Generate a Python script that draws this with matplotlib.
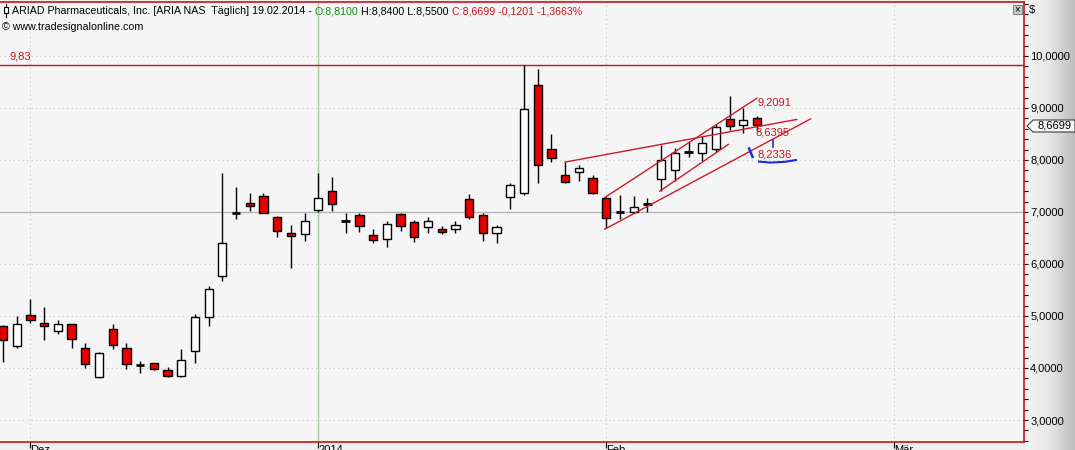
import matplotlib
matplotlib.use('Agg')
import matplotlib.pyplot as plt
import numpy as np
from matplotlib.ticker import MultipleLocator
from matplotlib.patches import Rectangle, Polygon

plt.rcParams['font.family'] = ['Liberation Sans', 'DejaVu Sans']

# Tageskerzen ARIA, Dez 2013 - 19.02.2014
opens = [4.80, 4.43, 5.02, 4.87, 4.72, 4.85, 4.38, 3.83, 4.75, 4.38,
         4.06, 4.09, 3.96, 3.85, 4.33, 4.98, 5.76, 6.99, 7.17, 7.31,
         6.90, 6.60, 6.57, 7.03, 7.40, 6.82, 6.94, 6.55, 6.48, 6.96,
         6.81, 6.72, 6.67, 6.67, 7.245, 6.94, 6.59, 7.28, 7.36, 9.44,
         8.21, 7.71, 7.77, 7.65, 7.26, 7.00, 7.005, 7.15, 7.64, 7.80,
         8.15, 8.13, 8.21, 8.79, 8.67, 8.81]
highs = [4.82, 5.00, 5.33, 5.18, 4.92, 4.85, 4.48, 4.31, 4.85, 4.49,
         4.13, 4.09, 4.01, 4.37, 5.045, 5.58, 7.75, 7.49, 7.36, 7.36,
         6.92, 6.745, 6.975, 7.745, 7.67, 6.99, 6.99, 6.67, 6.82, 6.99,
         6.85, 6.90, 6.73, 6.82, 7.34, 6.975, 6.745, 7.55, 9.83, 9.75,
         8.50, 7.96, 7.90, 7.71, 7.295, 7.33, 7.31, 7.26, 8.29, 8.24,
         8.35, 8.46, 8.69, 9.23, 9.00, 8.84]
lows = [4.12, 4.39, 4.86, 4.54, 4.65, 4.39, 4.00, 3.80, 4.37, 3.98,
        3.90, 3.955, 3.83, 3.83, 4.10, 4.80, 5.67, 6.86, 7.01, 6.99,
        6.51, 5.92, 6.45, 7.005, 7.02, 6.59, 6.62, 6.40, 6.32, 6.64,
        6.43, 6.59, 6.57, 6.59, 6.87, 6.45, 6.40, 7.05, 7.33, 7.56,
        7.96, 7.55, 7.60, 7.35, 6.70, 6.86, 7.00, 7.00, 7.40, 7.60,
        8.05, 7.99, 8.16, 8.58, 8.525, 8.55]
closes = [4.53, 4.85, 4.92, 4.81, 4.85, 4.56, 4.07, 4.28, 4.44, 4.07,
          4.06, 3.98, 3.85, 4.15, 4.975, 5.52, 6.40, 6.99, 7.11, 6.99,
          6.63, 6.545, 6.82, 7.26, 7.15, 6.82, 6.725, 6.455, 6.77, 6.73,
          6.51, 6.82, 6.61, 6.745, 6.90, 6.59, 6.705, 7.51, 8.99, 7.90,
          8.03, 7.585, 7.85, 7.37, 6.88, 7.00, 7.09, 7.15, 8.00, 8.13,
          8.15, 8.32, 8.64, 8.655, 8.775, 8.6699]

# Trendlinien (Bar-Index, Kurs)
line_a = ([41, 57.9], [7.96, 8.78])
line_b = ([43.9, 55.0], [7.28, 9.19])
line_c = ([43.9, 58.9], [6.67, 8.79])
line_d = ([47.9, 52.9], [7.40, 8.30])
level_high = 9.83
month_pos = [2, 23, 44, 65]
month_labels = ['Dez', '2014', 'Feb', 'Mär']
y_ticks = [3, 4, 5, 6, 7, 8, 9, 10]

W, H = 1075, 450
fig = plt.figure(figsize=(W / 100, H / 100), dpi=100, facecolor='#efefef')

def fx(x):
    return x / W

def fy(y):
    return 1 - y / H

# rechte Preisskala mit Verlauf
axr = fig.add_axes([fx(1025), 0, fx(50), 1], zorder=0)
grad = np.linspace(0, 1, 100).reshape(1, -1)
axr.imshow(grad, aspect='auto', cmap=matplotlib.colors.LinearSegmentedColormap.from_list(
    'g', ['#f4f4f4', '#e6e6e6', '#bcbcbc']), extent=[0, 1, 0, 1])
axr.set_axis_off()

ax = fig.add_axes([0, fy(442), fx(1024), 440 / H], zorder=2)
ax.set_facecolor('#f5f5f5')
ax.set_xlim(-0.219, 74.47)
ax.set_ylim(2.577, 11.038)
for s in ax.spines.values():
    s.set_color('#c8141e')
    s.set_linewidth(1.2)
ax.spines['left'].set_visible(False)

# Gitter
for v in y_ticks:
    if v == 7:
        ax.axhline(v, color='#b4b4b4', lw=1, zorder=1)
    else:
        ax.axhline(v, color='#c4c4c4', lw=0.8, ls=(0, (1, 3)), zorder=1)
for i, p in enumerate(month_pos):
    if i == 1:
        ax.axvline(p, color='#a9c4a9', lw=1, zorder=1)
    else:
        ax.axvline(p, color='#c4c4c4', lw=0.8, ls=(0, (1, 3)), zorder=1)

ax.axhline(level_high, color='#d0101a', lw=1, zorder=1)
ax.text(0.5, level_high + 0.06, '9,83', color='#d0101a', fontsize=8, va='bottom')

# Kerzen
idx = np.arange(len(opens))
o = np.array(opens); c = np.array(closes)
ax.vlines(idx, lows, highs, color='black', lw=1, zorder=3)
doji = np.abs(c - o) < 0.005
cols = np.where(c < o, '#e80000', 'white')
ax.bar(idx[~doji], np.abs(c - o)[~doji], bottom=np.minimum(o, c)[~doji], width=0.6,
       color=cols[~doji], edgecolor='black', lw=1, zorder=4)
ax.hlines(c[doji], idx[doji] - 0.32, idx[doji] + 0.32, color='black', lw=2, zorder=4)

for ln in (line_a, line_b, line_c, line_d):
    ax.plot(ln[0], ln[1], color='#cc1a2a', lw=1, zorder=5)
ax.text(55.0, 9.10, '9,2091', color='#d0101a', fontsize=8, va='center', zorder=6)
ax.text(54.85, 8.52, '8,6395', color='#d0101a', fontsize=8, va='center', zorder=6)
ax.text(55.0, 8.10, '8,2336', color='#d0101a', fontsize=8, va='center', zorder=6)

# blaue Handmarkierungen
ax.plot([55.14, 55.94, 57.04, 57.84], [7.97, 7.95, 7.965, 8.00], color='#1530d8', lw=1.5, zorder=6)
ax.plot([54.42, 54.67], [8.22, 8.06], color='#1530d8', lw=1.8, zorder=6)
ax.plot([56.16, 56.16], [8.38, 8.25], color='#1530d8', lw=1.2, zorder=6)

# Achsen
ax.yaxis.tick_right()
ax.set_yticks(y_ticks)
ax.set_yticklabels([f'{v:.4f}'.replace('.', ',') for v in y_ticks])
ax.yaxis.set_minor_locator(MultipleLocator(0.2))
ax.tick_params(axis='y', which='both', direction='out', length=3, width=0.8,
               pad=1.5, labelsize=8, colors='black')
ax.set_xticks(month_pos)
ax.set_xticklabels(month_labels)
for lab in ax.get_xticklabels():
    lab.set_horizontalalignment('left')
ax.tick_params(axis='x', direction='out', length=4, width=0.8, pad=-1.5, labelsize=8)

# Kopfzeile
fig.canvas.draw()
r = fig.canvas.get_renderer()
segs = [('ARIAD Pharmaceuticals, Inc. [ARIA NAS  Täglich] 19.02.2014 - ', 'black'),
        ('O:8,8100', '#109010'),
        (' H:8,8400 L:8,5500 ', 'black'),
        ('C:8,6699 -0,1201 -1,3663%', '#d0101a')]
x0 = fx(12)
for txt, col in segs:
    t = fig.text(x0, fy(11), txt, color=col, fontsize=7.7, va='center', zorder=10)
    bb = t.get_window_extent(r)
    x0 = bb.x1 / W
fig.text(fx(2), fy(27), '© www.tradesignalonline.com', fontsize=7.7, va='center', zorder=10)
# Kerzen-Symbol
fig.add_artist(plt.Line2D([fx(6), fx(6)], [fy(4), fy(17)], color='black', lw=0.8, zorder=10))
fig.add_artist(Rectangle((fx(4), fy(13)), fx(4), 6 / H, facecolor='white', edgecolor='black',
                         lw=0.8, zorder=11))

# Kursmarke rechts
yp = 126
fig.add_artist(Polygon([(fx(1027), fy(yp)), (fx(1033), fy(yp - 6)), (fx(1075), fy(yp - 6)),
                        (fx(1075), fy(yp + 6)), (fx(1033), fy(yp + 6))],
                       closed=True, facecolor='#f6f6f6', edgecolor='#404040', lw=0.8, zorder=10))
fig.text(fx(1038), fy(yp), '8,6699', fontsize=8, va='center', zorder=11)
fig.text(fx(1029), fy(10), '$', fontsize=8, va='center', zorder=11)
fig.add_artist(Rectangle((fx(1013), fy(14)), fx(9), 9 / H, facecolor='#c8c8c8',
                         edgecolor='#707070', lw=0.6, zorder=11))
fig.text(fx(1017.5), fy(9.5), '×', fontsize=7, ha='center', va='center', zorder=12)

plt.savefig('out.png', dpi=100, facecolor=fig.get_facecolor())
